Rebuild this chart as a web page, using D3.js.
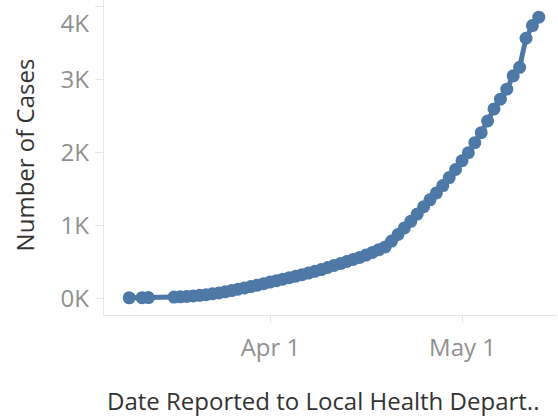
<!DOCTYPE html>
<html>
<head>
<meta charset="utf-8">
<script src="https://cdn.jsdelivr.net/npm/d3@7"></script>
<style>
  html, body { margin: 0; padding: 0; background: #fff; }
  svg { display: block; }
  text { font-family: "Open Sans", sans-serif; }
</style>
</head>
<body>
<svg id="chart" width="558" height="416"></svg>
<script>
// ---- data ----
const dates = [
  "2020-03-10","2020-03-12","2020-03-13",
  "2020-03-17","2020-03-18","2020-03-19","2020-03-20","2020-03-21","2020-03-22","2020-03-23",
  "2020-03-24","2020-03-25","2020-03-26","2020-03-27","2020-03-28","2020-03-29","2020-03-30",
  "2020-03-31","2020-04-01","2020-04-02","2020-04-03","2020-04-04","2020-04-05","2020-04-06",
  "2020-04-07","2020-04-08","2020-04-09","2020-04-10","2020-04-11","2020-04-12","2020-04-13",
  "2020-04-14","2020-04-15","2020-04-16","2020-04-17","2020-04-18","2020-04-19","2020-04-20",
  "2020-04-21","2020-04-22","2020-04-23","2020-04-24","2020-04-25","2020-04-26","2020-04-27",
  "2020-04-28","2020-04-29","2020-04-30","2020-05-01","2020-05-02","2020-05-03","2020-05-04",
  "2020-05-05","2020-05-06","2020-05-07","2020-05-08","2020-05-09","2020-05-10","2020-05-11",
  "2020-05-12","2020-05-13"
];
const cases = [
  2, 4, 6,
  12, 16, 22, 29, 37, 46, 57,
  70, 85, 102, 120, 138, 156, 175,
  196, 218, 238, 258, 278, 298, 320,
  342, 365, 390, 418, 446, 472, 500,
  528, 556, 588, 625, 662, 700, 780,
  870, 960, 1050, 1150, 1250, 1345, 1440,
  1540, 1650, 1760, 1880, 1990, 2128, 2265,
  2425, 2590, 2724, 2861, 3044, 3160, 3558,
  3732, 3847
];
const yTicks = [0, 1000, 2000, 3000, 4000];
const yTickLabels = ["0K", "1K", "2K", "3K", "4K"];
const xTicks = ["2020-04-01", "2020-05-01"];
const xTickLabels = ["Apr 1", "May 1"];
const xTitle = "Date Reported to Local Health Depart..";
const yTitle = "Number of Cases";

// ---- drawing ----
const svg = d3.select("#chart");
const parse = d3.utcParse("%Y-%m-%d");
const data = dates.map((d, i) => ({ date: parse(d), value: cases[i] }));

const plotLeft = 103, plotRight = 557, plotTop = 0, plotBottom = 315;

const x = d3.scaleUtc()
  .domain([parse("2020-04-01"), parse("2020-05-01")])
  .range([270, 462]);
const y = d3.scaleLinear().domain([0, 4000]).range([298, 6]);

const gridColor = "#e6e6e6";
const tickTextColor = "#909090";
const titleColor = "#333333";
const lineColor = "#4e79a7";

// axis lines
svg.append("line")
  .attr("x1", plotLeft + 0.5).attr("x2", plotLeft + 0.5)
  .attr("y1", plotTop).attr("y2", plotBottom)
  .attr("stroke", gridColor).attr("stroke-width", 1);
svg.append("line")
  .attr("x1", plotLeft).attr("x2", plotRight)
  .attr("y1", plotBottom + 0.5).attr("y2", plotBottom + 0.5)
  .attr("stroke", gridColor).attr("stroke-width", 1);

// y axis ticks
const yAxis = d3.axisLeft(y)
  .tickValues(yTicks)
  .tickSize(8)
  .tickPadding(6)
  .tickFormat((d, i) => yTickLabels[i]);
const gy = svg.append("g")
  .attr("transform", `translate(${plotLeft},0)`)
  .call(yAxis);
gy.select(".domain").remove();
gy.selectAll(".tick line").attr("stroke", gridColor);
gy.selectAll(".tick text")
  .attr("fill", tickTextColor)
  .style("font-size", "24px")
  .attr("dy", "0.35em");
// Keep the top label inside the view (as in the reference)
gy.selectAll(".tick text").filter(d => d === 4000).attr("y", 0).attr("transform", "translate(0,17)");

// x axis ticks
const xAxis = d3.axisBottom(x)
  .tickValues(xTicks.map(parse))
  .tickSize(8)
  .tickPadding(16)
  .tickFormat((d, i) => xTickLabels[i]);
const gx = svg.append("g")
  .attr("transform", `translate(0,${plotBottom})`)
  .call(xAxis);
gx.select(".domain").remove();
gx.selectAll(".tick line").attr("stroke", gridColor);
gx.selectAll(".tick text")
  .attr("fill", tickTextColor)
  .style("font-size", "24px");

// line
const line = d3.line().x(d => x(d.date)).y(d => y(d.value));
svg.append("path")
  .datum(data)
  .attr("d", line)
  .attr("fill", "none")
  .attr("stroke", lineColor)
  .attr("stroke-width", 5)
  .attr("stroke-linejoin", "round");

svg.append("g").selectAll("circle")
  .data(data)
  .join("circle")
  .attr("cx", d => x(d.date))
  .attr("cy", d => y(d.value))
  .attr("r", 6.5)
  .attr("fill", lineColor);

// titles
svg.append("text")
  .attr("x", 107).attr("y", 410)
  .attr("fill", titleColor)
  .style("font-size", "24px")
  .text(xTitle);

svg.append("text")
  .attr("transform", "translate(34,155) rotate(-90)")
  .attr("text-anchor", "middle")
  .attr("fill", titleColor)
  .style("font-size", "24px")
  .text(yTitle);
</script>
</body>
</html>
